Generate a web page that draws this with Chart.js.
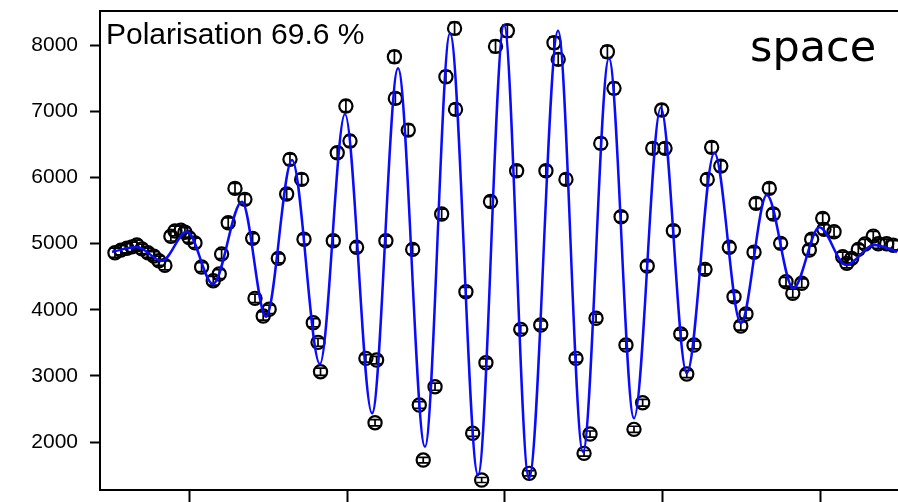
<!DOCTYPE html>
<html>
<head>
<meta charset="utf-8">
<script src="https://cdn.jsdelivr.net/npm/chart.js@4/dist/chart.umd.min.js"></script>
<style>
  body { margin: 0; background: #fff; }
  canvas { display: block; }
</style>
</head>
<body>
<canvas id="polChart" width="898" height="502"></canvas>
<script>
// positions of the measured points (arbitrary units, one tick = 100)
const xPoints = [
  -247.6, -243.8, -240.0, -236.8, -233.7, -230.5, -226.7, -222.9, -219.7, -215.9,
  -212.1, -209.5, -205.7, -203.2, -200.6, -196.8, -192.6, -185.2, -181.4, -179.9,
  -175.7, -171.4, -165.1, -160.2, -158.7, -153.5, -149.7, -143.9, -138.6, -136.5,
  -129.1, -127.6, -121.7, -118.7, -117.1, -109.0, -106.5, -101.0, -98.4, -94.2,
  -88.3, -81.5, -82.5, -75.6, -70.2, -69.6, -61.4, -58.6, -54.4, -51.9,
  -44.4, -40.2, -37.5, -32.0, -31.4, -24.8, -20.5, -14.8, -12.1, -9.2,
  -6.0, 1.5, 7.4, 10.0, 15.4, 22.7, 26.0, 31.1, 33.8, 38.7,
  45.1, 50.2, 54.0, 57.8, 60.8, 65.0, 69.2, 73.7, 76.8, 81.9,
  87.4, 90.3, 93.8, 99.5, 101.6, 106.9, 111.6, 115.4, 120.0, 127.0,
  128.4, 131.2, 137.0, 142.4, 145.4, 149.7, 153.0, 158.1, 159.4, 167.8,
  170.3, 175.0, 178.4, 182.7, 188.4, 193.2, 194.7, 201.7, 202.5, 208.9,
  214.4, 217.0, 220.1, 224.3, 228.6, 233.8, 237.0, 242.3, 246.5
];
// counts
const yPoints = [
  4860, 4900, 4930, 4950, 4980, 4920, 4860, 4810, 4740, 4670,
  5110, 5190, 5200, 5170, 5090, 5010, 4645, 4438, 4539, 4841,
  5314, 5834, 5668, 5079, 4172, 3904, 4006, 4776, 5748, 6273,
  5970, 5064, 3803, 3507, 3063, 5042, 6372, 7078, 6549, 4943,
  3265, 3239, 2292, 5042, 7823, 7194, 6715, 4912, 2559, 1728,
  2836, 5446, 7521, 8252, 7028, 4272, 2132, 1426, 3199, 5635,
  7980, 8216, 6100, 3703, 1527, 3768, 6100, 8035, 7784, 5970,
  3265, 1829, 2121, 3870, 6514, 7899, 7346, 5405, 3466, 2192,
  2594, 4660, 6439, 7018, 6439, 5194, 3632, 3028, 3466, 4610,
  5970, 6454, 6171, 4943, 4196, 3753, 3935, 4869, 5608, 5834,
  5446, 5003, 4423, 4247, 4399, 4902, 5064, 5381, 5215, 5178,
  4801, 4701, 4776, 4912, 4993, 5113, 4997, 4997, 4975
];
// fitted curve (read at its turning points)
const xFit = [
  -249.5, -233.7, -217.8, -201.9, -185.4, -167.0, -151.7, -135.2, -117.5, -101.6,
  -84.4, -67.9, -50.8, -34.9, -17.1, -0.6, 15.2, 33.7, 49.5, 66.0,
  81.9, 98.9, 115.4, 132.9, 149.7, 166.2, 183.0, 199.6, 216.5, 234.3, 248.9
];
const yFit = [
  4876, 4947, 4740, 5184, 4388, 5632, 3894, 6262, 3179, 6957,
  2434, 7648, 1929, 8177, 1501, 8302, 1451, 8216, 1853, 7799,
  2358, 7058, 3038, 6372, 3794, 5733, 4323, 5245, 4675, 4977, 4876
];
const yTicks = [2000, 3000, 4000, 5000, 6000, 7000, 8000];
const xTicks = [-200, -100, 0, 100, 200];

const polText = 'Polarisation 69.6 %';
const tagText = 'space';

const errorBars = {
  id: 'errorBars',
  beforeDatasetsDraw(chart) {
    const meta = chart.getDatasetMeta(1);
    const ys = chart.scales.y;
    const ctx = chart.ctx;
    ctx.save();
    ctx.strokeStyle = '#000';
    ctx.lineWidth = 1.7;
    meta.data.forEach((pt, i) => {
      const v = yPoints[i];
      const e = Math.sqrt(v);
      const t = ys.getPixelForValue(v + e);
      const b = ys.getPixelForValue(v - e);
      ctx.beginPath();
      ctx.moveTo(pt.x, t); ctx.lineTo(pt.x, b);
      ctx.moveTo(pt.x - 5, t); ctx.lineTo(pt.x + 5, t);
      ctx.moveTo(pt.x - 5, b); ctx.lineTo(pt.x + 5, b);
      ctx.stroke();
    });
    ctx.restore();
  }
};

const frameAndText = {
  id: 'frameAndText',
  afterDraw(chart) {
    const ctx = chart.ctx;
    const a = chart.chartArea;
    ctx.save();
    // top edge of the box
    ctx.strokeStyle = '#000';
    ctx.lineWidth = 2;
    ctx.beginPath();
    ctx.moveTo(a.left, a.top);
    ctx.lineTo(a.right, a.top);
    ctx.stroke();

    ctx.fillStyle = '#000';
    ctx.textBaseline = 'alphabetic';
    ctx.font = '30px "Liberation Sans"';
    ctx.fillText(polText, a.left + 6, a.top + 33);
    ctx.font = '43px "DejaVu Sans"';
    ctx.fillText(tagText, a.left + 650, a.top + 50);
    ctx.restore();
  }
};

const ctx = document.getElementById('polChart').getContext('2d');
const polChart = new Chart(ctx, {
  type: 'scatter',
  data: {
    datasets: [{
      type: 'line',
      data: xFit.map((x, i) => ({ x: x, y: yFit[i] })),
      borderColor: '#0a0aff',
      borderWidth: 2.5,
      pointRadius: 0,
      fill: false,
      cubicInterpolationMode: 'monotone'
    }, {
      type: 'scatter',
      data: xPoints.map((x, i) => ({ x: x, y: yPoints[i] })),
      pointStyle: 'circle',
      pointRadius: 6.6,
      borderWidth: 2.2,
      borderColor: '#000',
      backgroundColor: 'rgba(0,0,0,0)'
    }]
  },
  options: {
    responsive: false,
    animation: false,
    layout: { autoPadding: false, padding: { top: 11, right: 0, left: 0, bottom: 0 } },
    plugins: {
      legend: { display: false },
      tooltip: { enabled: false }
    },
    scales: {
      x: {
        type: 'linear',
        min: -257.1,
        max: 249.5,
        afterBuildTicks: (scale) => { scale.ticks = xTicks.map(v => ({ value: v })); },
        afterFit: (scale) => {
          scale.height = 12;
          scale.paddingLeft = 0;
          scale.paddingRight = 0;
        },
        ticks: { display: false },
        grid: {
          drawOnChartArea: false,
          drawTicks: true,
          tickLength: 12,
          tickWidth: 2,
          tickColor: '#000'
        },
        border: { display: true, color: '#000', width: 2 }
      },
      y: {
        type: 'linear',
        min: 1275,
        max: 8515,
        afterBuildTicks: (scale) => { scale.ticks = yTicks.map(v => ({ value: v })); },
        afterFit: (scale) => {
          scale.width = 100;
          scale.paddingTop = 0;
          scale.paddingBottom = 0;
        },
        ticks: {
          color: '#000',
          padding: 12,
          font: { family: '"Liberation Sans"', size: 21 },
          callback: (v) => String(v)
        },
        grid: {
          drawOnChartArea: false,
          drawTicks: true,
          tickLength: 10,
          tickWidth: 2,
          tickColor: '#000'
        },
        border: { display: true, color: '#000', width: 2 }
      }
    }
  },
  plugins: [errorBars, frameAndText]
});
</script>
</body>
</html>
